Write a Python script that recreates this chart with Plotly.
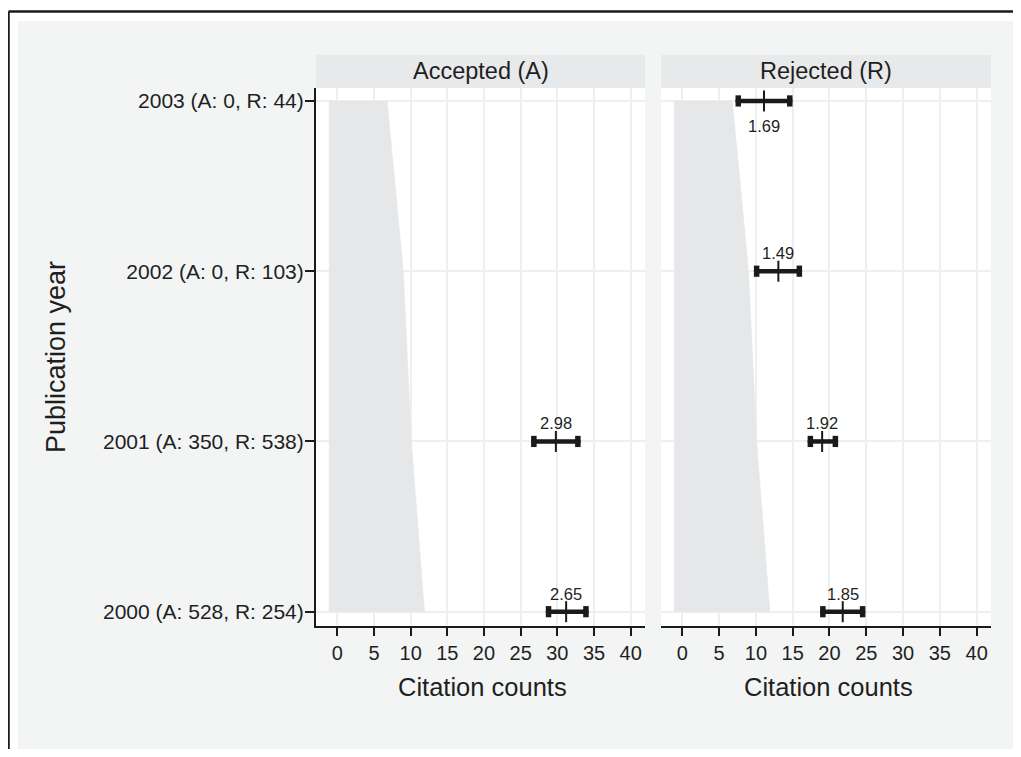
import plotly.graph_objects as go

# ---------------- data ----------------
years = [2000, 2001, 2002, 2003]
n_accepted = [528, 350, 0, 0]
n_rejected = [254, 538, 103, 44]

# accepted panel (no accepted papers in 2002 / 2003)
acc_mean = [31.2, 29.8, None, None]
acc_lo = [28.8, 26.8, None, None]
acc_hi = [33.9, 32.8, None, None]
acc_label = ["2.65", "2.98", None, None]

# rejected panel
rej_mean = [21.8, 19.0, 13.05, 11.1]
rej_lo = [19.1, 17.4, 10.1, 7.6]
rej_hi = [24.5, 20.8, 15.9, 14.6]
rej_label = ["1.85", "1.92", "1.49", "1.69"]

# shaded reference band
band_left = -1.1
band_right = [11.9, 10.1, 9.0, 6.8]

x_ticks = [0, 5, 10, 15, 20, 25, 30, 35, 40]
panel_titles = ["Accepted (A)", "Rejected (R)"]
x_title = "Citation counts"
y_title = "Publication year"

ytick_text = [f"{y} (A: {a}, R: {r})" for y, a, r in zip(years, n_accepted, n_rejected)]
ypos = list(range(len(years)))

# ---------------- layout helpers ----------------
OFF = 8  # page body margin offset
W, H = 1021 - OFF, 757 - 2 * OFF
def px(x):
    return (x - OFF) / W
def py(y):
    return 1 - (y - OFF) / H

FONT = "Liberation Sans, Arial, Helvetica, sans-serif"
TXT = "#1f1f1f"
GRID = "#eef0f0"
BAND = "#e6e7e8"
STRIP = "#e8e9ea"
OUTER = "#f3f4f4"

panels = [
    dict(x0=316, x1=645, xa="x", ya="y"),
    dict(x0=661, x1=991, xa="x2", ya="y2"),
]
PY0, PY1 = 88, 626
xrange_ = [-2.9, 41.95]
yrange_ = [-0.084, 3.076]

fig = go.Figure()

series = [
    (acc_mean, acc_lo, acc_hi, acc_label),
    (rej_mean, rej_lo, rej_hi, rej_label),
]

annotations = []
for p, (mean, lo, hi, lab) in zip(panels, series):
    # band polygon
    bx = [band_left] * len(years) + band_right[::-1]
    by = ypos + ypos[::-1]
    fig.add_trace(go.Scatter(x=bx, y=by, mode="lines", fill="toself",
                             fillcolor=BAND, line=dict(color=BAND, width=0.5),
                             xaxis=p["xa"], yaxis=p["ya"], hoverinfo="skip",
                             showlegend=False))
    # error bar lines
    lx, ly, cx, cy, mx, my = [], [], [], [], [], []
    for i, (m, l, h) in enumerate(zip(mean, lo, hi)):
        if m is None:
            continue
        lx += [l, h, None]
        ly += [ypos[i], ypos[i], None]
        cx += [l, h]
        cy += [ypos[i], ypos[i]]
        mx.append(m)
        my.append(ypos[i])
    fig.add_trace(go.Scatter(x=lx, y=ly, mode="lines",
                             line=dict(color="#1a1a1a", width=4.5),
                             xaxis=p["xa"], yaxis=p["ya"], showlegend=False))
    fig.add_trace(go.Scatter(x=cx, y=cy, mode="markers",
                             marker=dict(symbol="line-ns", size=8,
                                         line=dict(color="#1a1a1a", width=5.5)),
                             xaxis=p["xa"], yaxis=p["ya"], showlegend=False))
    fig.add_trace(go.Scatter(x=cx, y=cy + [None] * 0, mode="markers",
                             marker=dict(symbol="circle", size=5.5, color="#1a1a1a",
                                         line=dict(width=0)),
                             xaxis=p["xa"], yaxis=p["ya"], showlegend=False))
    fig.add_trace(go.Scatter(x=mx, y=my, mode="markers",
                             marker=dict(symbol="line-ns", size=15,
                                         line=dict(color="#1a1a1a", width=2)),
                             xaxis=p["xa"], yaxis=p["ya"], showlegend=False))
    for i, (m, t) in enumerate(zip(mean, lab)):
        if m is None:
            continue
        top = i == len(years) - 1
        annotations.append(dict(x=m, y=ypos[i], xref=p["xa"], yref=p["ya"],
                                text=t, showarrow=False,
                                yshift=-25 if top else 18,
                                font=dict(size=16.5, color=TXT, family=FONT)))

# ---------------- shapes ----------------
shapes = [
    dict(type="rect", xref="paper", yref="paper", x0=px(18), x1=px(1040),
         y0=py(753), y1=py(21), fillcolor=OUTER, line=dict(width=0), layer="below"),
]
for p, title in zip(panels, panel_titles):
    shapes.append(dict(type="rect", xref="paper", yref="paper", x0=px(p["x0"]), x1=px(p["x1"]),
                       y0=py(PY1), y1=py(PY0), fillcolor="white", line=dict(width=0),
                       layer="below"))
    shapes.append(dict(type="rect", xref="paper", yref="paper", x0=px(p["x0"]), x1=px(p["x1"]),
                       y0=py(88), y1=py(55), fillcolor=STRIP, line=dict(width=0),
                       layer="below"))
    annotations.append(dict(x=px((p["x0"] + p["x1"]) / 2), y=py(71.5), xref="paper", yref="paper",
                            text=title, showarrow=False, xanchor="center", yanchor="middle",
                            font=dict(size=23.5, color=TXT, family=FONT)))
    annotations.append(dict(x=px((p["x0"] + p["x1"]) / 2 + 2), y=py(687), xref="paper", yref="paper",
                            text=x_title, showarrow=False, xanchor="center", yanchor="middle",
                            font=dict(size=25.5, color=TXT, family=FONT)))
# frame lines
shapes.append(dict(type="line", xref="paper", yref="paper", x0=px(8.5), x1=px(1040),
                   y0=py(11.5), y1=py(11.5), line=dict(color="#1a1a1a", width=2.5)))
shapes.append(dict(type="line", xref="paper", yref="paper", x0=px(8.5), x1=px(8.5),
                   y0=py(11.5), y1=py(780), line=dict(color="#1a1a1a", width=2.5)))

annotations.append(dict(x=px(56), y=py(357), xref="paper", yref="paper", text=y_title,
                        showarrow=False, textangle=-90, xanchor="center", yanchor="middle",
                        font=dict(size=27, color=TXT, family=FONT)))

xaxis_common = dict(range=xrange_, tickvals=x_ticks, ticks="outside", ticklen=8,
                    tickwidth=1.5, tickcolor="#1a1a1a", showline=True, linecolor="#1a1a1a",
                    linewidth=2, showgrid=True, gridcolor=GRID, gridwidth=2, zeroline=False,
                    tickfont=dict(size=20, color=TXT, family=FONT), fixedrange=True)
yaxis_common = dict(range=yrange_, tickvals=ypos, showgrid=True, gridcolor=GRID, gridwidth=2,
                    zeroline=False, domain=[py(PY1), py(PY0)], fixedrange=True)

fig.update_layout(
    width=W, height=H,
    margin=dict(l=0, r=0, t=0, b=0),
    paper_bgcolor="white", plot_bgcolor="rgba(0,0,0,0)",
    showlegend=False,
    font=dict(family=FONT, color=TXT),
    xaxis=dict(domain=[px(316), px(645)], anchor="y", **xaxis_common),
    xaxis2=dict(domain=[px(661), px(991)], anchor="y2", **xaxis_common),
    yaxis=dict(anchor="x", ticktext=ytick_text, ticks="outside", ticklen=9, tickwidth=1.5,
               tickcolor="#1a1a1a", showline=True, linecolor="#1a1a1a", linewidth=2,
               tickfont=dict(size=21, color=TXT, family=FONT), ticklabelstandoff=-3,
               **yaxis_common),
    yaxis2=dict(anchor="x2", showticklabels=False, ticks="", showline=False, **yaxis_common),
    shapes=shapes,
    annotations=annotations,
)

fig.write_html("out.html")
